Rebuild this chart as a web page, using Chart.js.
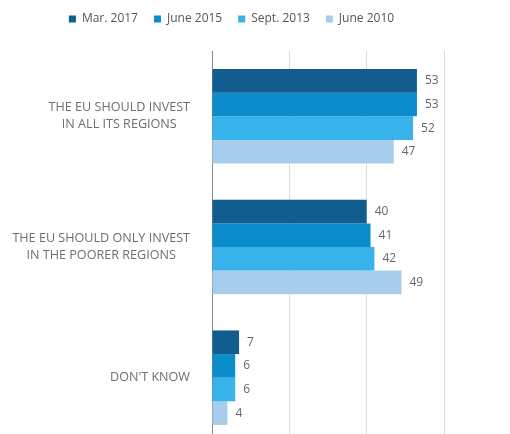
<!DOCTYPE html>
<html>
<head>
<meta charset="utf-8">
<script src="https://cdn.jsdelivr.net/npm/chart.js@4"></script>
<style>
html,body{margin:0;padding:0;overflow:hidden;background:#fff;}
canvas{display:block;}
</style>
</head>
<body>
<canvas id="c" width="510" height="443"></canvas>
<script>
const categories = [
  ["THE EU SHOULD INVEST", "IN ALL ITS REGIONS"],
  ["THE EU SHOULD ONLY INVEST", "IN THE POORER REGIONS"],
  ["DON'T KNOW"]
];
const seriesNames = ["Mar. 2017", "June 2015", "Sept. 2013", "June 2010"];
const mar2017 = [53, 40, 7];
const june2015 = [53, 41, 6];
const sept2013 = [52, 42, 6];
const june2010 = [47, 49, 4];
const xTicks = [0, 20, 40, 60];
const colors = ["#115d90", "#0b8dcc", "#38b2ea", "#a6cdeb"];

const seriesValues = [mar2017, june2015, sept2013, june2010];

const FONT = "'Open Sans', sans-serif";

const legendSpace = {
  id: 'legendSpace',
  beforeInit(chart) {
    const lg = chart.legend;
    if (!lg) return;
    const orig = lg.fit;
    lg.fit = function () { orig.call(this); this.height += 16; };
  }
};

const labelPlugin = {
  id: 'labels',
  afterDatasetsDraw(chart) {
    const ctx = chart.ctx;
    ctx.save();
    ctx.font = "12px " + FONT;
    ctx.fillStyle = "#666";
    ctx.textBaseline = "middle";
    ctx.textAlign = "left";
    chart.data.datasets.forEach((ds, i) => {
      const meta = chart.getDatasetMeta(i);
      meta.data.forEach((bar, j) => {
        ctx.fillText(String(ds.data[j]), bar.x + 8, bar.y);
      });
    });
    // category labels: block right-aligned, lines centered within block
    const y = chart.scales.y;
    ctx.font = "12.6px " + FONT;
    ctx.fillStyle = "#6e6e6e";
    ctx.textAlign = "center";
    const right = y.right - 22;
    const lh = 17;
    categories.forEach((lines, k) => {
      const cy = y.getPixelForValue(k);
      const w = Math.max(...lines.map(l => ctx.measureText(l).width));
      const cx = right - w / 2;
      const top = cy - (lines.length - 1) * lh / 2;
      lines.forEach((l, n) => ctx.fillText(l, cx, top + n * lh));
    });
    ctx.restore();
  }
};

new Chart(document.getElementById('c'), {
  type: 'bar',
  data: {
    labels: categories,
    datasets: seriesNames.map((n, i) => ({
      label: n,
      data: seriesValues[i],
      backgroundColor: colors[i],
      borderWidth: 0
    }))
  },
  options: {
    indexAxis: 'y',
    responsive: false,
    animation: false,
    layout: { padding: { top: -3, right: 66, left: 19, bottom: 0 } },
    datasets: { bar: { categoryPercentage: 0.723, barPercentage: 1.0 } },
    plugins: {
      legend: {
        position: 'top',
        labels: {
          boxWidth: 7, boxHeight: 7, padding: 16,
          color: '#555',
          font: { family: FONT, size: 12 }
        }
      },
      tooltip: { enabled: false }
    },
    scales: {
      x: {
        min: 0, max: 60,
        afterBuildTicks(s) { s.ticks = xTicks.map(v => ({ value: v })); },
        ticks: { display: false },
        grid: { color: '#dcdcdc', drawTicks: false },
        border: { display: false }
      },
      y: {
        ticks: { display: false },
        grid: { display: false, drawTicks: false },
        border: { color: '#888', width: 1 },
        afterFit(s) { s.width = 193; }
      }
    }
  },
  plugins: [legendSpace, labelPlugin]
});
</script>
</body>
</html>
